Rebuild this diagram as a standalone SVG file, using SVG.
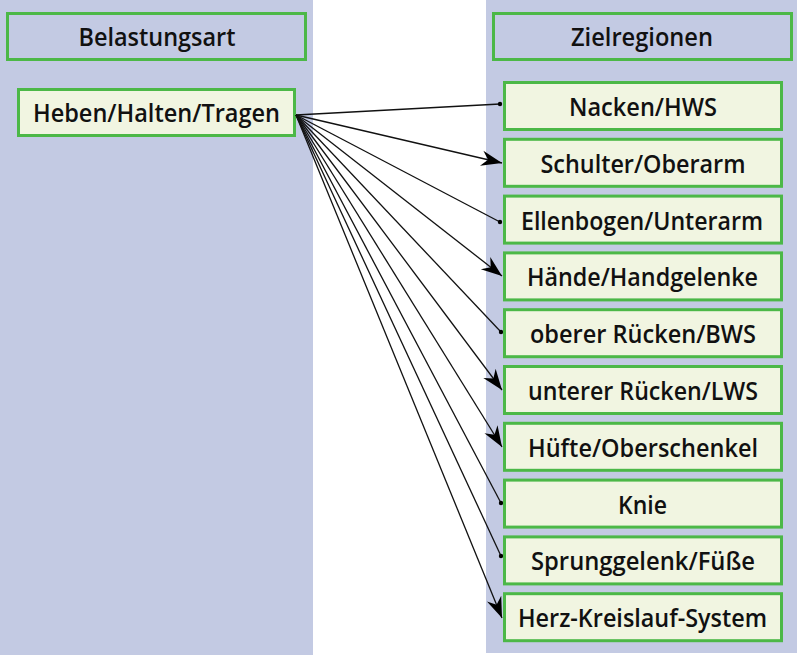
<svg xmlns="http://www.w3.org/2000/svg" width="800" height="655" viewBox="0 0 800 655">
<style>
.band{fill:#c3cae3}
.hdr{fill:#c3cae3;stroke:#4cb847;stroke-width:3}
.node{fill:#f1f5e1;stroke:#4cb847;stroke-width:3}
.t{font-family:"Open Sans","Noto Sans","Liberation Sans",sans-serif;font-weight:600;font-size:24.5px;fill:#111;text-anchor:middle}
.c{fill:none;stroke:#111;stroke-width:1.3}
</style>
<defs>
<marker id="arr" markerUnits="userSpaceOnUse" markerWidth="22" markerHeight="18" viewBox="-19 -8 20 16" refX="0" refY="0" orient="auto">
<path d="M0,0 L-19,-7 L-13,0 L-19,7 Z" fill="#000"/>
</marker>
<marker id="dot" markerUnits="userSpaceOnUse" markerWidth="6" markerHeight="6" viewBox="-3 -3 6 6" refX="0" refY="0">
<circle r="2.2" fill="#000"/>
</marker>
</defs>
<rect width="800" height="655" fill="#fff"/>
<rect class="band" x="0" y="0" width="313" height="655"/>
<rect class="band" x="486" y="0" width="311" height="653"/>
<g id="hdr-left"><rect class="hdr" x="7.5" y="13.5" width="298" height="46"/><text class="t" x="157" y="46" textLength="157" lengthAdjust="spacingAndGlyphs">Belastungsart</text></g>
<g id="hdr-right"><rect class="hdr" x="493.5" y="13.5" width="298" height="46"/><text class="t" x="642" y="46" textLength="142" lengthAdjust="spacingAndGlyphs">Zielregionen</text></g>
<g id="src"><rect class="node" x="18.5" y="89.5" width="276" height="46"/><text class="t" x="156.5" y="122" textLength="247" lengthAdjust="spacingAndGlyphs">Heben/Halten/Tragen</text></g>
<g id="connectors">
<line class="c" x1="296" y1="115" x2="500" y2="104" marker-end="url(#dot)"/>
<line class="c" x1="296" y1="115" x2="502" y2="163" marker-end="url(#arr)"/>
<line class="c" x1="296" y1="115" x2="500" y2="222" marker-end="url(#dot)"/>
<line class="c" x1="296" y1="115" x2="502" y2="276" marker-end="url(#arr)"/>
<line class="c" x1="296" y1="115" x2="501" y2="332" marker-end="url(#dot)"/>
<line class="c" x1="296" y1="115" x2="502" y2="390" marker-end="url(#arr)"/>
<line class="c" x1="296" y1="115" x2="502" y2="447" marker-end="url(#arr)"/>
<line class="c" x1="296" y1="115" x2="501" y2="503" marker-end="url(#dot)"/>
<line class="c" x1="296" y1="115" x2="501" y2="556" marker-end="url(#dot)"/>
<line class="c" x1="296" y1="115" x2="502" y2="618" marker-end="url(#arr)"/>
</g>
<g id="n1"><rect class="node" x="504.5" y="82.5" width="277" height="47"/><text class="t" x="643" y="116" textLength="148" lengthAdjust="spacingAndGlyphs">Nacken/HWS</text></g>
<g id="n2"><rect class="node" x="504.5" y="139.3" width="277" height="47"/><text class="t" x="643" y="172.8" textLength="205" lengthAdjust="spacingAndGlyphs">Schulter/Oberarm</text></g>
<g id="n3"><rect class="node" x="504.5" y="196.1" width="277" height="47"/><text class="t" x="642" y="229.6" textLength="242" lengthAdjust="spacingAndGlyphs">Ellenbogen/Unterarm</text></g>
<g id="n4"><rect class="node" x="504.5" y="252.9" width="277" height="47"/><text class="t" x="642.5" y="286.4" textLength="231" lengthAdjust="spacingAndGlyphs">Hände/Handgelenke</text></g>
<g id="n5"><rect class="node" x="504.5" y="309.7" width="277" height="47"/><text class="t" x="643" y="343.2" textLength="226" lengthAdjust="spacingAndGlyphs">oberer Rücken/BWS</text></g>
<g id="n6"><rect class="node" x="504.5" y="366.5" width="277" height="47"/><text class="t" x="643" y="400" textLength="230" lengthAdjust="spacingAndGlyphs">unterer Rücken/LWS</text></g>
<g id="n7"><rect class="node" x="504.5" y="423.3" width="277" height="47"/><text class="t" x="643" y="456.8" textLength="230" lengthAdjust="spacingAndGlyphs">Hüfte/Oberschenkel</text></g>
<g id="n8"><rect class="node" x="504.5" y="480.1" width="277" height="47"/><text class="t" x="642.5" y="513.6" textLength="49" lengthAdjust="spacingAndGlyphs">Knie</text></g>
<g id="n9"><rect class="node" x="504.5" y="536.9" width="277" height="47"/><text class="t" x="643" y="570.4" textLength="224" lengthAdjust="spacingAndGlyphs">Sprunggelenk/Füße</text></g>
<g id="n10"><rect class="node" x="504.5" y="593.7" width="277" height="47"/><text class="t" x="642.5" y="627.2" textLength="249" lengthAdjust="spacingAndGlyphs">Herz-Kreislauf-System</text></g>
</svg>
